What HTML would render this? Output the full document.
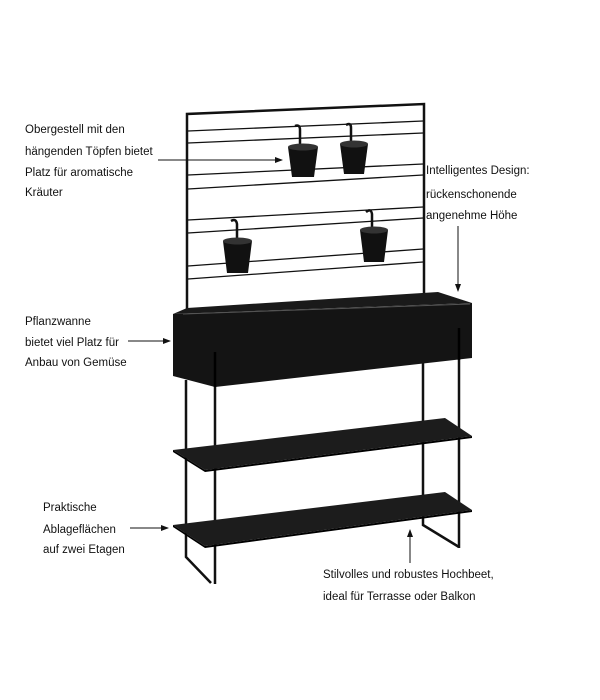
<!DOCTYPE html>
<html><head><meta charset="utf-8"><style>
html,body{margin:0;padding:0;background:#fff;}
svg{display:block;}
text{font-family:"Liberation Sans",sans-serif;font-size:11.5px;fill:#111;}
</style></head><body>
<svg width="600" height="700" viewBox="0 0 600 700" xmlns="http://www.w3.org/2000/svg">
<defs><marker id="ah" markerWidth="8" markerHeight="8" refX="7" refY="4" orient="auto" markerUnits="userSpaceOnUse"><path d="M0,1 L8,4 L0,7 z" fill="#111"/></marker></defs>
<!-- frame -->
<g stroke="#111" fill="none">
<path d="M187,312 L187,114 L424,104 L424,296" stroke-width="2.5"/>
<g stroke-width="1.3">
<line x1="188" y1="131" x2="423" y2="121"/>
<line x1="188" y1="143" x2="423" y2="133"/>
<line x1="188" y1="175" x2="423" y2="164"/>
<line x1="188" y1="189" x2="423" y2="175"/>
<line x1="188" y1="220" x2="423" y2="207"/>
<line x1="188" y1="233" x2="423" y2="218"/>
<line x1="188" y1="266" x2="423" y2="249"/>
<line x1="188" y1="279" x2="423" y2="262"/>
</g>
<g stroke-width="2.5">
<path d="M300,145 L300,130 Q300,124 295,126"/>
<path d="M351,142 L351,128 Q351,122 346,125"/>
<path d="M237,240 L237,224 Q236,218 231,221"/>
<path d="M372,230 L372,214 Q371,208 366,212"/>
</g>
</g>
<!-- pots -->
<g fill="#111">
<path d="M288,147 L318,147 L314,177 L292,177 z"/><ellipse cx="303" cy="147" rx="15" ry="3.5" fill="#333"/>
<path d="M340,144 L368,144 L364,174 L344,174 z"/><ellipse cx="354" cy="144" rx="14" ry="3.5" fill="#333"/>
<path d="M223,241 L252,241 L248,273 L227,273 z"/><ellipse cx="237.5" cy="241" rx="14.5" ry="3.5" fill="#333"/>
<path d="M360,230 L388,230 L384,262 L364,262 z"/><ellipse cx="374" cy="230" rx="14" ry="3.5" fill="#333"/>
</g>
<!-- legs -->
<g stroke="#111" stroke-width="2.5" fill="none">
<path d="M186,380 L186,557 L211,583"/>
<path d="M215,352 L215,584"/>
<path d="M423,360 L423,525 L459,547"/>
<path d="M459,328 L459,548"/>
</g>
<!-- planter -->
<polygon points="173,314 187,308 438,292 472,303" fill="#1a1a1a"/>
<polygon points="173,314 472,303 472,358 215,387 173,376" fill="#141414"/>
<line x1="183" y1="314" x2="470" y2="304" stroke="#555" stroke-width="1"/>
<line x1="215" y1="352" x2="215" y2="387" stroke="#000" stroke-width="2.5"/>
<line x1="459" y1="328" x2="459" y2="360" stroke="#000" stroke-width="2.5"/>
<!-- shelves -->
<polygon points="173,450 445,418 472,436 205,470" fill="#1c1c1c"/>
<polygon points="173,450 205,470 205,472 173,452" fill="#000"/>
<polygon points="205,470 472,436 472,438 205,472" fill="#000"/>
<polygon points="173,525 445,492 472,510 205,546" fill="#1c1c1c"/>
<polygon points="173,525 205,546 205,548 173,527" fill="#000"/>
<polygon points="205,546 472,510 472,512 205,548" fill="#000"/>
<!-- arrows -->
<g stroke="#111" stroke-width="1" marker-end="url(#ah)">
<line x1="158" y1="160" x2="282" y2="160"/>
<line x1="458" y1="226" x2="458" y2="291"/>
<line x1="128" y1="341" x2="170" y2="341"/>
<line x1="130" y1="528" x2="168" y2="528"/>
<line x1="410" y1="563" x2="410" y2="530"/>
</g>
<!-- labels -->
<text x="25" y="133">Obergestell mit den</text>
<text x="25" y="155">hängenden Töpfen bietet</text>
<text x="25" y="176">Platz für aromatische</text>
<text x="25" y="196">Kräuter</text>
<text x="426" y="174">Intelligentes Design:</text>
<text x="426" y="198">rückenschonende</text>
<text x="426" y="219">angenehme Höhe</text>
<text x="25" y="325">Pflanzwanne</text>
<text x="25" y="346">bietet viel Platz für</text>
<text x="25" y="366">Anbau von Gemüse</text>
<text x="43" y="511">Praktische</text>
<text x="43" y="533">Ablageflächen</text>
<text x="43" y="553">auf zwei Etagen</text>
<text x="323" y="578">Stilvolles und robustes Hochbeet,</text>
<text x="323" y="600">ideal für Terrasse oder Balkon</text>
</svg>
</body></html>
